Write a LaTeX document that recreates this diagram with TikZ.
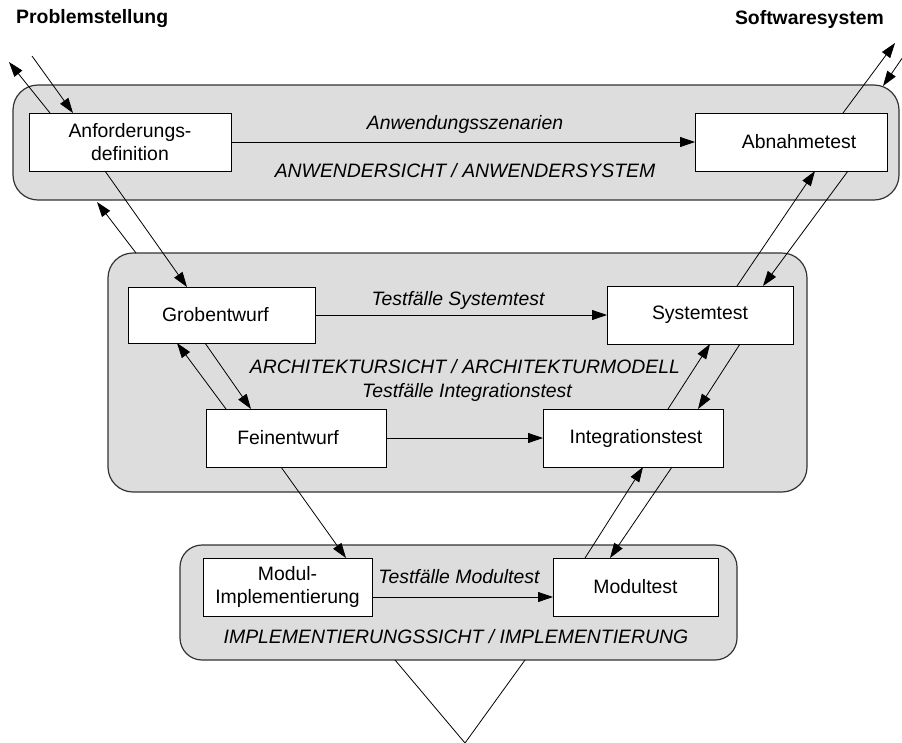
\documentclass[tikz,border=0pt]{standalone}
\usepackage{fontspec}
\setmainfont{Liberation Sans}
\usetikzlibrary{arrows.meta}
\definecolor{panelgray}{HTML}{DDDDDD}
\definecolor{edgegray}{HTML}{333333}
\begin{document}
\begin{tikzpicture}[x=1pt,y=-1pt,
  every node/.style={font=\fontsize{19.4}{23}\selectfont},
  panel/.style={draw=edgegray, line width=1.2pt, fill=panelgray, rounded corners=25pt,
    inner sep=0pt, outer sep=0pt},
  stepbox/.style={draw=black, line width=0.9pt, fill=white, inner sep=0pt, outer sep=0pt,
    align=center},
  caption/.style={font=\fontsize{19.4}{23}\selectfont\itshape, inner sep=0pt},
  heading/.style={font=\fontsize{19.4}{23}\selectfont\bfseries, inner sep=0pt},
  flow/.style={line width=0.8pt, -{Triangle[length=15pt,width=10pt]}},
  plain/.style={line width=0.8pt}
]
\useasboundingbox (0,0) rectangle (902,742);

% panels of the three levels
\node[panel, minimum width=886pt, minimum height=115pt] (topp) at (456,142.5) {};
\node[panel, minimum width=699pt, minimum height=239pt] (archp) at (457.5,372.5) {};
\node[panel, rounded corners=22pt, minimum width=557pt, minimum height=115pt] (implp) at (458.5,602.5) {};

% headings
\node[heading, anchor=west] (prob) at (16,19) {Problemstellung};
\node[heading, anchor=east] (soft) at (884,19) {Softwaresystem};

% activity boxes
\node[stepbox, minimum width=202pt, minimum height=58pt] (anf) at (130,142) {Anforderungs-\\definition};
\node[stepbox, minimum width=192pt, minimum height=58pt] (abn) at (791,142) {\hspace*{16pt}Abnahmetest};
\node[stepbox, minimum width=187pt, minimum height=56pt] (grob) at (221.5,315) {Grobentwurf\hspace*{12pt}};
\node[stepbox, minimum width=186pt, minimum height=58pt] (sys) at (700,315) {Systemtest};
\node[stepbox, minimum width=180pt, minimum height=58pt] (fein) at (296,438) {Feinentwurf\hspace*{16pt}};
\node[stepbox, minimum width=180pt, minimum height=58pt] (integ) at (633,438) {\hspace*{6pt}Integrationstest};
\node[stepbox, minimum width=169pt, minimum height=58pt] (modul) at (287.5,587) {Modul-\\Implementierung};
\node[stepbox, minimum width=165pt, minimum height=58pt] (modt) at (635.5,587) {Modultest};

% captions
\node[caption] (szen) at (465,124) {Anwendungsszenarien};
\node[caption] (anw) at (465,171) {ANWENDERSICHT / ANWENDERSYSTEM};
\node[caption] (tsys) at (458,300) {Testfälle Systemtest};
\node[caption] (arch) at (465,367) {ARCHITEKTURSICHT / ARCHITEKTURMODELL};
\node[caption] (tint) at (467,392) {Testfälle Integrationstest};
\node[caption] (tmod) at (459,577) {Testfälle Modultest};
\node[caption] (impl) at (456,637) {IMPLEMENTIERUNGSSICHT / IMPLEMENTIERUNG};

% free ends
\coordinate (pin) at (32,56);
\coordinate (pout) at (9,62);
\coordinate (sout) at (895,43);
\coordinate (sin) at (905,54);
\coordinate (apex) at (465,743);

% test case flows
\draw[flow] (anf.east) -- (abn.west);
\draw[flow] (grob.east) -- (sys.west);
\draw[flow] (fein.east) -- (integ.west);
\draw[flow] ([yshift=-10pt]modul.east) -- ([yshift=-10pt]modt.west);

% left branch
\draw[flow] (pin) -- ([xshift=44pt]anf.north west);
\draw[flow] ([xshift=21pt]anf.north west) -- (pout);
\draw[flow] ([xshift=76pt]anf.south west) -- ([xshift=59pt]grob.north west);
\draw[flow] ([xshift=28pt]archp.north west) -- ([xshift=84pt,yshift=-2pt]topp.south west);
\draw[flow] ([xshift=77pt]grob.south west) -- ([xshift=45pt]fein.north west);
\draw[flow] ([xshift=20pt]fein.north west) -- ([xshift=49pt]grob.south west);
\draw[flow] ([xshift=75pt]fein.south west) -- ([xshift=143pt]modul.north west);

% right branch
\draw[flow] ([xshift=32pt]modt.north west) -- ([xshift=100pt]integ.south west);
\draw[flow] ([xshift=129pt]integ.south west) -- ([xshift=57pt]modt.north west);
\draw[flow] ([xshift=125pt]integ.north west) -- ([xshift=103pt]sys.south west);
\draw[flow] ([xshift=133pt]sys.south west) -- ([xshift=155pt]integ.north west);
\draw[flow] ([xshift=130pt]sys.north west) -- ([xshift=120pt]abn.south west);
\draw[flow] ([xshift=153pt]abn.south west) -- ([xshift=156pt]sys.north west);
\draw[flow] ([xshift=148pt]abn.north west) -- (sout);
\draw[flow] (sin) -- ([xshift=-16pt,yshift=-1pt]topp.north east);

% bottom of the V
\draw[plain] ([xshift=215pt]implp.south west) -- (apex) -- ([xshift=345pt]implp.south west);
\end{tikzpicture}
\end{document}
